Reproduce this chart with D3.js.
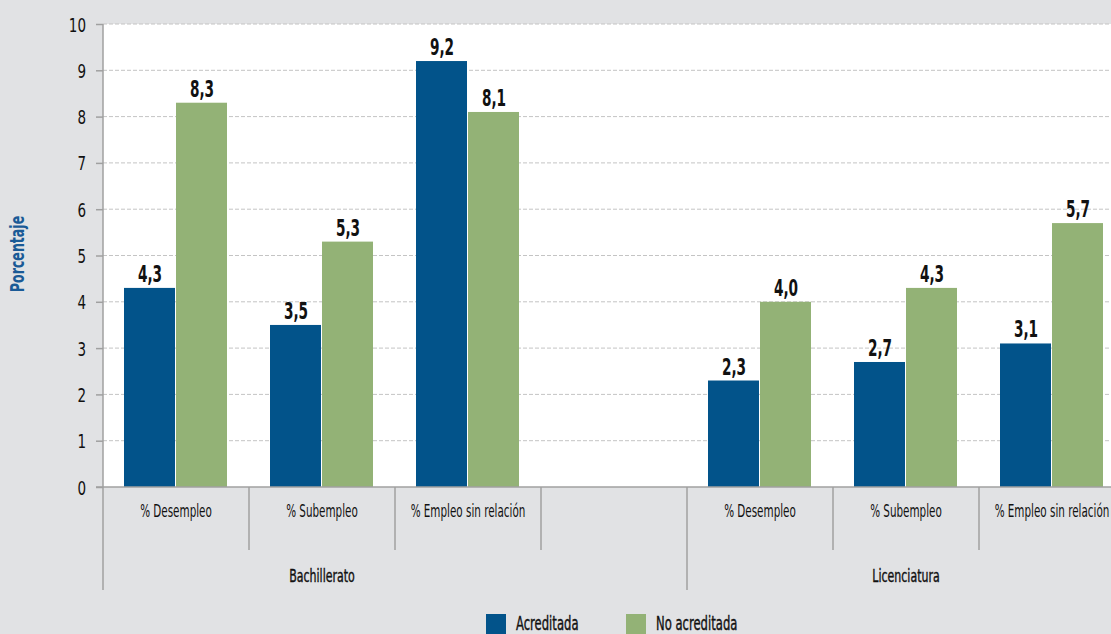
<!DOCTYPE html>
<html><head><meta charset="utf-8">
<script src="https://cdn.jsdelivr.net/npm/d3@7"></script>
<style>
html,body{margin:0;padding:0;background:#e1e2e4;}
svg{display:block;font-family:"DejaVu Sans Condensed","Liberation Sans Narrow","Arial Narrow",sans-serif;}
</style></head>
<body><svg id="c" width="1111" height="634"></svg>
<script>
const groups = ["Bachillerato", "Licenciatura"];
const categories = ["% Desempleo", "% Subempleo", "% Empleo sin relación"];
const series = ["Acreditada", "No acreditada"];
const acreditada = [4.3, 3.5, 9.2, 2.3, 2.7, 3.1];
const noAcreditada = [8.3, 5.3, 8.1, 4.0, 4.3, 5.7];
const yTicks = [0,1,2,3,4,5,6,7,8,9,10];
const colors = ["#02538a", "#93b276"];

(function(){
const slots = [];
groups.forEach((g, gi) => {
  categories.forEach((c, ci) => slots.push({key: g + "|" + c, group: g, cat: c, idx: gi*3+ci}));
  if (gi === 0) slots.push({key: g + "|gap", group: g, cat: null, idx: -1});
});

const svg = d3.select("#c");
const mLeft = 103, mTop = 24, mBottom = 487;
const slotW = 146;
const x = d3.scaleBand().domain(slots.map(s => s.key)).range([mLeft, mLeft + slotW*slots.length]).padding(0);
const xs = d3.scaleBand().domain(series).range([21, 125]).padding(0);
const y = d3.scaleLinear().domain([0, 10]).range([mBottom, mTop]);
const fmt = d => d3.format(".1f")(d).replace(".", ",");
const tr = (px, py, sx) => `translate(${px},${py}) scale(${sx},1)`;

svg.append("rect").attr("x", mLeft).attr("y", mTop).attr("width", 1111 - mLeft).attr("height", mBottom - mTop).attr("fill", "#fff");

svg.append("g").selectAll("line").data(yTicks.filter(t => t > 0)).join("line")
  .attr("x1", mLeft).attr("x2", 1111).attr("y1", d => y(d)).attr("y2", d => y(d))
  .attr("stroke", "#c4c4c4").attr("stroke-width", 1).attr("stroke-dasharray", "4,2");

const data = [];
slots.forEach(s => {
  if (s.idx < 0) return;
  data.push({slot: s.key, series: series[0], v: acreditada[s.idx], c: colors[0]});
  data.push({slot: s.key, series: series[1], v: noAcreditada[s.idx], c: colors[1]});
});
svg.append("g").selectAll("rect").data(data).join("rect")
  .attr("x", d => x(d.slot) + xs(d.series)).attr("width", xs.bandwidth() - 1)
  .attr("y", d => y(d.v)).attr("height", d => y(0) - y(d.v)).attr("fill", d => d.c);
svg.append("g").selectAll("text").data(data).join("text")
  .attr("transform", d => tr(x(d.slot) + xs(d.series) + xs.bandwidth()/2, y(d.v) - 6, 0.66))
  .attr("text-anchor", "middle").attr("font-size", 23).attr("font-weight", "bold").attr("fill", "#111")
  .text(d => fmt(d.v));

const yAxis = d3.axisLeft(y).tickValues(yTicks).tickSize(7).tickPadding(10).tickFormat(d3.format("d"));
const ya = svg.append("g").attr("transform", `translate(${mLeft},0)`).call(yAxis);
ya.attr("font-family", null).attr("font-size", null);
ya.select(".domain").attr("stroke", "#a0a0a0").attr("stroke-width", 1.5).attr("d", `M0,${mTop}V${mBottom}`);
ya.selectAll(".tick line").attr("stroke", "#a0a0a0").attr("stroke-width", 1.5);
ya.selectAll(".tick text").attr("x", null).attr("dy", null).attr("transform", tr(-17, 7, 0.75))
  .attr("font-size", 20).attr("fill", "#111");

svg.append("line").attr("x1", mLeft - 7).attr("x2", 1111).attr("y1", mBottom).attr("y2", mBottom)
  .attr("stroke", "#a0a0a0").attr("stroke-width", 1.5);

const sepG = svg.append("g").attr("stroke", "#a0a0a0").attr("stroke-width", 1.5);
slots.forEach((s, i) => {
  const xx = x(s.key);
  const isGroupStart = i === 0 || slots[i-1].group !== s.group;
  sepG.append("line").attr("x1", xx).attr("x2", xx).attr("y1", mBottom).attr("y2", isGroupStart ? 590 : 550);
});

svg.append("g").selectAll("text").data(slots.filter(s => s.cat)).join("text")
  .attr("transform", s => tr(x(s.key) + x.bandwidth()/2, 517, 0.68)).attr("text-anchor", "middle")
  .attr("font-size", 17).attr("fill", "#111").text(s => s.cat);

groups.forEach(g => {
  const ks = slots.filter(s => s.group === g && s.cat);
  const x0 = x(ks[0].key), x1 = x(ks[ks.length-1].key) + x.bandwidth();
  svg.append("text").attr("transform", tr((x0 + x1)/2, 582, 0.68)).attr("text-anchor", "middle")
    .attr("font-size", 18).attr("fill", "#111").attr("stroke", "#111").attr("stroke-width", 0.4).text(g);
});

svg.append("text").attr("transform", "translate(24,254) rotate(-90) scale(0.7,1)").attr("text-anchor", "middle")
  .attr("font-size", 20).attr("font-weight", "bold").attr("fill", "#1a5a96").text("Porcentaje");

const legX = [486, 626];
series.forEach((s, i) => {
  svg.append("rect").attr("x", legX[i]).attr("y", 614).attr("width", 20).attr("height", 22).attr("fill", colors[i]);
  svg.append("text").attr("transform", tr(legX[i] + 30, 630, 0.68)).attr("font-size", 19)
    .attr("fill", "#111").attr("stroke", "#111").attr("stroke-width", 0.4).text(s);
});
})();
</script></body></html>
